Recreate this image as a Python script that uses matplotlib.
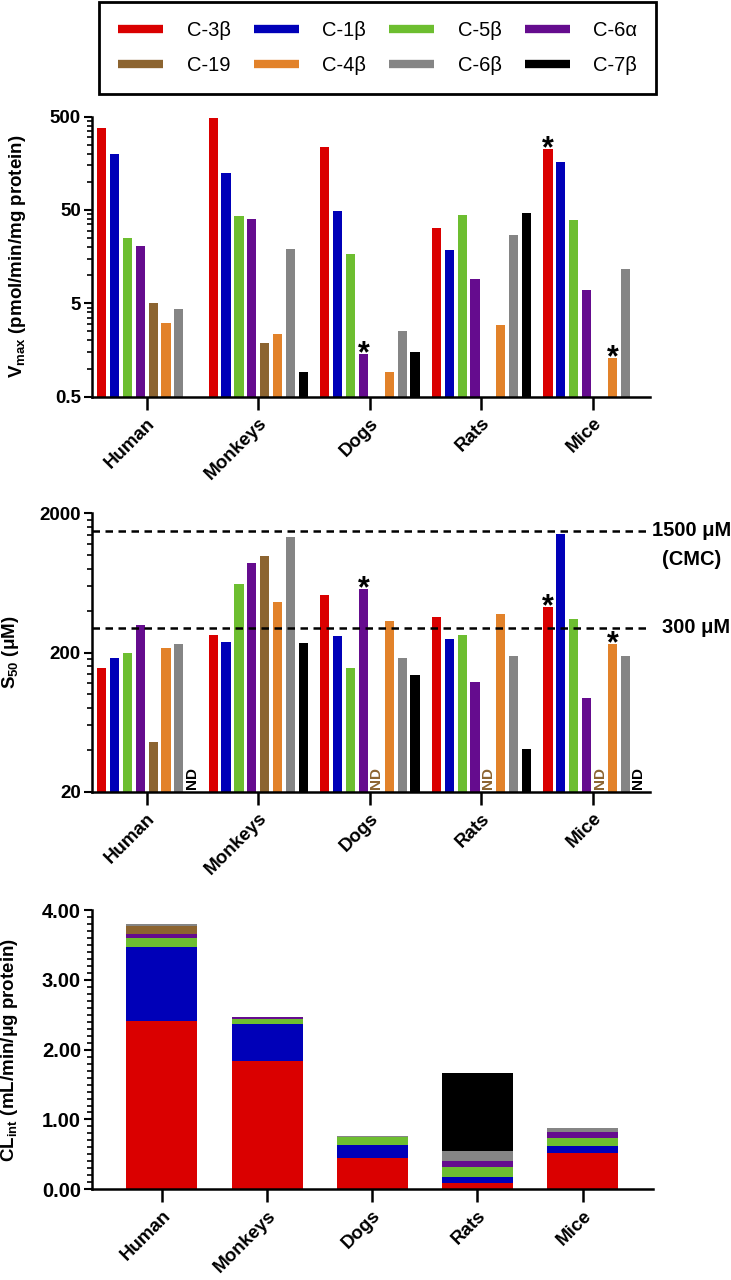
import numpy as np
import matplotlib.pyplot as plt
from matplotlib.lines import Line2D
from matplotlib.ticker import FixedLocator, NullFormatter, MultipleLocator, FormatStrFormatter
import matplotlib.transforms as mtransforms

plt.rcParams['font.family'] = ['Liberation Sans', 'DejaVu Sans']
plt.rcParams['font.weight'] = 'bold'
plt.rcParams['mathtext.fontset'] = 'custom'
plt.rcParams['mathtext.rm'] = 'Liberation Sans:bold'
plt.rcParams['mathtext.it'] = 'Liberation Sans:bold'
plt.rcParams['mathtext.bf'] = 'Liberation Sans:bold'

# %% DATA

species = ['Human', 'Monkeys', 'Dogs', 'Rats', 'Mice']
sites   = ['C-3β', 'C-1β', 'C-5β', 'C-6α', 'C-19', 'C-4β', 'C-6β', 'C-7β']
colors  = ['#DA0000', '#0000B8', '#6DBE30', '#650C8E', '#8C6430', '#E2822A', '#858585', '#000000']

# Vmax (pmol/min/mg protein); rows = sites, cols = species, None = no bar
vmax = [[375, 490, 235, 32, 224],
        [198, 126, 49, 18.7, 164],
        [25, 43, 17, 44, 39],
        [20.7, 40, 1.43, 9.1, 6.9],
        [5.0, 1.86, None, None, None],
        [3.1, 2.35, 0.92, 2.9, 1.31],
        [4.35, 19, 2.55, 27, 11.7],
        [None, 0.92, 1.52, 46, None]]
vmax_star = [(3, 2), (0, 4), (5, 4)]     # (site, species)

# S50 (uM); 'ND' = not determined
s50 = [[155, 265, 516, 359, 424],
       [184, 239, 262, 252, 1430],
       [200, 620, 156, 265, 348],
       [313, 872, 568, 123, 94],
       [45.6, 980, 'ND', 'ND', 'ND'],
       [217, 458, 338, 381, 231],
       [232, 1350, 182, 189, 190],
       ['ND', 235, 138, 40.6, 'ND']]
s50_star = [(3, 2), (0, 4), (5, 4)]
cmc_line = 1500
ref_line = 300

# CLint (mL/min/ug protein), stacked
clint = [[2.41, 1.84, 0.45, 0.095, 0.52],
         [1.055, 0.53, 0.19, 0.076, 0.105],
         [0.13, 0.066, 0.11, 0.153, 0.11],
         [0.06, 0.035, 0.005, 0.076, 0.08],
         [0.12, 0.0, 0.0, 0.0, 0.0],
         [0.0, 0.0, 0.0, 0.0, 0.0],
         [0.02, 0.0, 0.015, 0.143, 0.067],
         [0.0, 0.0, 0.0, 1.12, 0.0]]

# %% PLOT

W, H = 731, 1280
fig = plt.figure(figsize=(W / 100, H / 100), dpi=100)

def rect(x0, x1, ytop, ybot):
    return [x0 / W, 1 - ybot / H, (x1 - x0) / W, (ybot - ytop) / H]

ax1 = fig.add_axes(rect(92, 650, 116.7, 396.6))
ax2 = fig.add_axes(rect(92, 650, 513.3, 791.7))
ax3 = fig.add_axes(rect(92, 653, 910.0, 1189.3))

x = np.arange(len(species))
slot = 0.1155
bw = 0.082

def style(ax, ysize=13.5):
    ax.spines['top'].set_visible(False)
    ax.spines['right'].set_visible(False)
    ax.spines['left'].set_linewidth(1.8)
    ax.spines['bottom'].set_linewidth(1.8)
    ax.tick_params(axis='y', which='major', length=6, width=1.5, labelsize=ysize, pad=2)
    ax.tick_params(axis='y', which='minor', length=3.5, width=1.2)
    ax.tick_params(axis='x', which='major', length=9, width=1.8, labelsize=13.5, pad=4)
    ax.set_xticks(x)
    ax.set_xticklabels(species, rotation=45, ha='right', rotation_mode='anchor', fontweight='bold')
    for lab in ax.get_yticklabels():
        lab.set_fontweight('bold')

def star(ax, xp, yp):
    ax.annotate('*', (xp, yp), xytext=(0, -6), textcoords='offset points',
                ha='center', va='baseline', fontsize=22, fontweight='bold')

# Plot: Vmax
ax = ax1
ax.set_yscale('log')
base = 0.5
for i, site in enumerate(sites):
    for j in range(len(species)):
        v = vmax[i][j]
        if v is None:
            continue
        ax.bar(x[j] + (i - 3.5) * slot, v - base, bottom=base, width=bw, color=colors[i], linewidth=0)
for i, j in vmax_star:
    star(ax, x[j] + (i - 3.5) * slot, vmax[i][j])
ax.set_ylim(0.5, 500)
ax.set_xlim(-0.49, 4.51)
ax.yaxis.set_major_locator(FixedLocator([0.5, 5, 50, 500]))
ax.yaxis.set_major_formatter(plt.FixedFormatter(['0.5', '5', '50', '500']))
minors = np.concatenate([np.arange(1, 5, 0.5), np.arange(10, 50, 5), np.arange(100, 500, 50)])
ax.yaxis.set_minor_locator(FixedLocator(minors))
ax.yaxis.set_minor_formatter(NullFormatter())
style(ax)
ax.set_ylabel('V$_{max}$ (pmol/min/mg protein)', fontsize=13.5, fontweight='bold')
ax.yaxis.set_label_coords(-0.115, 0.5)

# Plot: S50
ax = ax2
ax.set_yscale('log')
base = 20
for i, site in enumerate(sites):
    for j in range(len(species)):
        v = s50[i][j]
        xp = x[j] + (i - 3.5) * slot
        if v == 'ND':
            ax.annotate('ND', (xp, base), xytext=(0, 2), textcoords='offset points',
                        rotation=90, ha='center', va='bottom', fontsize=11,
                        fontweight='bold', color=colors[i])
            continue
        ax.bar(xp, v - base, bottom=base, width=bw, color=colors[i], linewidth=0)
for i, j in s50_star:
    star(ax, x[j] + (i - 3.5) * slot, s50[i][j])
ax.axhline(cmc_line, color='k', lw=1.8, ls=(0, (3, 2.2)))
ax.axhline(ref_line, color='k', lw=1.8, ls=(0, (3, 2.2)))
trans = mtransforms.blended_transform_factory(ax.transAxes, ax.transData)
ax.text(1.074, cmc_line, '1500 μM', transform=trans, ha='center', va='center', fontsize=14.5, fontweight='bold')
ax.text(1.074, 930, '(CMC)', transform=trans, ha='center', va='center', fontsize=14.5, fontweight='bold')
ax.text(1.082, ref_line, '300 μM', transform=trans, ha='center', va='center', fontsize=14.5, fontweight='bold')
ax.set_ylim(20, 2000)
ax.set_xlim(-0.49, 4.51)
ax.yaxis.set_major_locator(FixedLocator([20, 200, 2000]))
ax.yaxis.set_major_formatter(plt.FixedFormatter(['20', '200', '2000']))
minors = np.concatenate([np.arange(40, 200, 20), np.arange(400, 2000, 200)])
ax.yaxis.set_minor_locator(FixedLocator(minors))
ax.yaxis.set_minor_formatter(NullFormatter())
style(ax)
ax.set_ylabel('S$_{50}$ (μM)', fontsize=13.5, fontweight='bold')
ax.yaxis.set_label_coords(-0.128, 0.5)

# Plot: CLint stacked
ax = ax3
bottom = np.zeros(len(species))
for i, site in enumerate(sites):
    vals = np.array(clint[i])
    ax.bar(x, vals, bottom=bottom, width=0.674, color=colors[i], linewidth=0)
    bottom += vals
ax.set_ylim(0, 4)
ax.set_xlim(-0.665, 4.67)
ax.yaxis.set_major_locator(MultipleLocator(1))
ax.yaxis.set_major_formatter(FormatStrFormatter('%.2f'))
ax.yaxis.set_minor_locator(MultipleLocator(0.1))
style(ax, ysize=14.5)
ax.set_ylabel('CL$_{int}$ (mL/min/μg protein)', fontsize=13.5, fontweight='bold')
ax.yaxis.set_label_coords(-0.128, 0.5)

# Legend
handles = [Line2D([0], [0], color=c, lw=6, solid_capstyle='butt') for c in colors]
order = [0, 4, 1, 5, 2, 6, 3, 7]
leg = fig.legend([handles[k] for k in order], [sites[k] for k in order],
                 loc='upper left', bbox_to_anchor=(99 / W, 1 - 2 / H), ncol=4,
                 frameon=True, fancybox=False, edgecolor='black', framealpha=1,
                 borderaxespad=0, handlelength=2.25, handletextpad=1.15,
                 columnspacing=1.15, labelspacing=0.8, borderpad=0.95,
                 prop={'size': 14.5, 'weight': 'normal'})
leg.get_frame().set_linewidth(2)

fig.savefig('out.png', dpi=100)
